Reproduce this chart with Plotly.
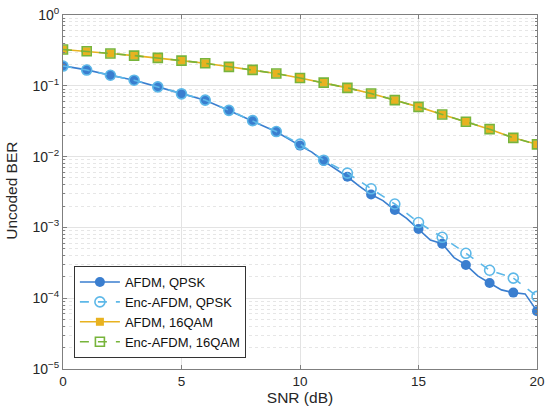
import plotly.graph_objects as go

# integer SNR points (markers)
snr = list(range(0, 21))

afdm_qpsk = [0.191, 0.168, 0.141, 0.120, 0.0966, 0.0769, 0.0627, 0.0448, 0.0320, 0.0224,
             0.0143, 0.00865, 0.00519, 0.00291, 0.00176, 0.00095, 0.000589, 0.000295,
             0.000164, 0.000120, 0.0000656]

# the solid QPSK curve is sampled more finely above 10 dB
afdm_qpsk_line_snr = [0, 1, 2, 3, 4, 5, 6, 7, 8, 9, 10, 10.5, 11, 11.5, 12, 12.5, 13, 13.5,
                      14, 14.5, 15, 15.5, 16, 16.5, 17, 17.5, 18, 18.5, 19, 19.5, 20]
afdm_qpsk_line_ber = [0.191, 0.168, 0.141, 0.120, 0.0966, 0.0769, 0.0627, 0.0448, 0.0320,
                      0.0224, 0.0143, 0.01156, 0.00865, 0.00678, 0.00519, 0.00384, 0.00291,
                      0.00239, 0.00176, 0.00134, 0.00095, 0.000664, 0.000589, 0.000374,
                      0.000295, 0.000207, 0.000164, 0.000131, 0.000120, 0.000115, 0.0000656]

enc_qpsk = [0.190, 0.167, 0.141, 0.120, 0.0965, 0.0770, 0.0628, 0.0450, 0.0322, 0.0226,
            0.0150, 0.0089, 0.00585, 0.00351, 0.00214, 0.00117, 0.000725, 0.000431,
            0.000248, 0.000192, 0.000106]

afdm_16qam = [0.325, 0.308, 0.286, 0.267, 0.248, 0.227, 0.208, 0.185, 0.168, 0.149,
              0.129, 0.111, 0.0934, 0.0778, 0.0627, 0.0504, 0.0394, 0.0310, 0.0244,
              0.0184, 0.0149]
enc_16qam = [0.325, 0.308, 0.286, 0.267, 0.248, 0.227, 0.208, 0.185, 0.168, 0.149,
             0.129, 0.111, 0.0934, 0.0778, 0.0627, 0.0504, 0.0394, 0.0310, 0.0244,
             0.0184, 0.0149]

y_tickvals = [1e-5, 1e-4, 1e-3, 1e-2, 1e-1, 1]
y_ticktext = ["10<sup>−5</sup>", "10<sup>−4</sup>", "10<sup>−3</sup>",
              "10<sup>−2</sup>", "10<sup>−1</sup>", "10<sup>0</sup>"]

BLUE = "#3A7ECF"
LIGHTBLUE = "#5DB8E8"
YELLOW = "#E8B220"
GREEN = "#77B43A"
FONT = "Liberation Sans, Arial"

fig = go.Figure()

# AFDM, QPSK: fine line + integer markers + legend entry
fig.add_trace(go.Scatter(x=afdm_qpsk_line_snr, y=afdm_qpsk_line_ber, mode="lines",
                         line=dict(color=BLUE, width=1.6), showlegend=False, hoverinfo="skip"))
fig.add_trace(go.Scatter(x=snr, y=afdm_qpsk, mode="markers",
                         marker=dict(color=BLUE, size=10, symbol="circle"), showlegend=False))
fig.add_trace(go.Scatter(x=[None], y=[None], mode="lines+markers", name="AFDM, QPSK",
                         line=dict(color=BLUE, width=1.6),
                         marker=dict(color=BLUE, size=10, symbol="circle")))

fig.add_trace(go.Scatter(x=snr, y=enc_qpsk, mode="lines+markers", name="Enc-AFDM, QPSK",
                         line=dict(color=LIGHTBLUE, width=1.6, dash="dash"),
                         marker=dict(color=LIGHTBLUE, size=10, symbol="circle-open",
                                     line=dict(width=1.6))))

fig.add_trace(go.Scatter(x=snr, y=afdm_16qam, mode="lines+markers", name="AFDM, 16QAM",
                         line=dict(color=YELLOW, width=1.6),
                         marker=dict(color=YELLOW, size=8, symbol="square")))

fig.add_trace(go.Scatter(x=snr, y=enc_16qam, mode="lines+markers", name="Enc-AFDM, 16QAM",
                         line=dict(color=GREEN, width=1.6, dash="dash"),
                         marker=dict(color=GREEN, size=9, symbol="square-open",
                                     line=dict(width=1.6))))

fig.update_xaxes(
    range=[0, 20], dtick=5, tick0=0,
    showline=True, linecolor="#7f7f7f", linewidth=1, mirror="allticks",
    ticks="inside", ticklen=4, tickcolor="#7f7f7f",
    showgrid=True, gridcolor="#e3e3e3", gridwidth=1, zeroline=False,
    tickfont=dict(family=FONT, size=13.5, color="#262626"),
    title=dict(text="SNR (dB)", font=dict(family=FONT, size=15.5, color="#262626"),
               standoff=2),
    automargin=False,
)
fig.update_yaxes(
    type="log", range=[-5, 0],
    tickvals=y_tickvals, ticktext=y_ticktext,
    showline=True, linecolor="#7f7f7f", linewidth=1, mirror="allticks",
    ticks="inside", ticklen=4, tickcolor="#7f7f7f",
    showgrid=True, gridcolor="#e3e3e3", gridwidth=1, zeroline=False,
    minor=dict(dtick="D1", ticks="inside", ticklen=2, tickcolor="#7f7f7f",
               showgrid=True, gridcolor="#e6e6e6", griddash="dot", gridwidth=1),
    tickfont=dict(family=FONT, size=14, color="#262626"),
    automargin=False,
)

# y title placed by hand, closer to the edge than the axis title allows
fig.add_annotation(text="Uncoded BER", xref="paper", yref="paper", x=-0.108, y=0.503,
                   xanchor="center", yanchor="middle", textangle=-90, showarrow=False,
                   font=dict(family=FONT, size=15.5, color="#262626"))

fig.update_layout(
    width=550, height=417,
    margin=dict(l=63, r=13, t=15, b=48),
    plot_bgcolor="white", paper_bgcolor="white",
    legend=dict(x=0.023, y=0.031, xanchor="left", yanchor="bottom",
                bgcolor="white", bordercolor="#333333", borderwidth=1,
                font=dict(family=FONT, size=13, color="#111111"),
                tracegroupgap=0, itemwidth=40),
    showlegend=True,
)

fig.write_html("out.html", config={"displayModeBar": False},
               post_script="document.body.style.margin='0px';")
